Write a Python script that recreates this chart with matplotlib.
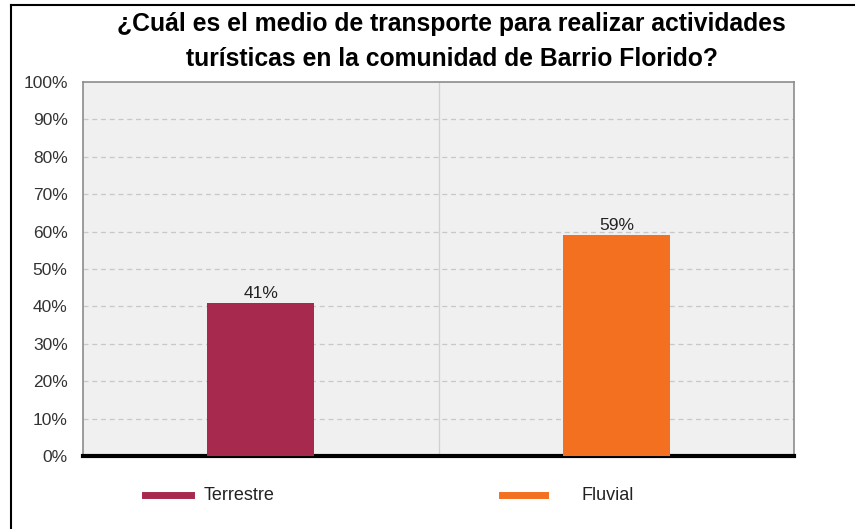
import matplotlib.pyplot as plt
from matplotlib.lines import Line2D
import numpy as np

plt.rcParams['font.family'] = ['Liberation Sans', 'DejaVu Sans']

categorias = ["Terrestre", "Fluvial"]
porcentajes = [41, 59]
etiquetas = ["41%", "59%"]
colores = ['#A8294E', '#F37021']
yticks = list(range(0, 101, 10))
titulo = "¿Cuál es el medio de transporte para realizar actividades\nturísticas en la comunidad de Barrio Florido?"

fig = plt.figure(figsize=(8.55, 5.29), dpi=100)
ax = fig.add_axes([0.097, 0.138, 0.832, 0.707])
ax.set_facecolor('#F0F0F0')

x = np.arange(len(categorias))
ax.bar(x, porcentajes, width=0.30, color=colores, zorder=3)
for xi, v, t in zip(x, porcentajes, etiquetas):
    ax.text(xi, v + 0.5, t, ha='center', va='bottom', fontsize=12.5, color='#222222', zorder=4)

ax.set_xlim(-0.5, 1.5)
ax.set_ylim(0, 100)
ax.set_yticks(yticks)
ax.set_yticklabels([f"{t}%" for t in yticks], fontsize=12.5, color='#333333')
ax.set_xticks([])
ax.tick_params(axis='y', length=0, pad=11)
for y in yticks[1:-1]:
    ax.axhline(y, color='#C8C8C8', linestyle=(0, (4, 3)), linewidth=0.9, zorder=1)
ax.axvline(0.5, color='#D0D0D0', linewidth=0.9, zorder=1)

for s in ['top', 'right', 'left']:
    ax.spines[s].set_color('#8C8C8C')
    ax.spines[s].set_linewidth(1.2)
ax.spines['bottom'].set_color('black')
ax.spines['bottom'].set_linewidth(3)

fig.text(0.528, 1 - 41.5/529, titulo, ha='center', va='center', fontsize=17.8,
         fontweight='bold', linespacing=1.6, color='black')

# leyenda
fig.add_artist(Line2D([145/855, 191/855], [1 - 495/529] * 2, color=colores[0], linewidth=5))
fig.text(204/855, 1 - 495/529, categorias[0], va='center', fontsize=13, color='#222222')
fig.add_artist(Line2D([502/855, 545/855], [1 - 495/529] * 2, color=colores[1], linewidth=5))
fig.text(581/855, 1 - 495/529, categorias[1], va='center', fontsize=13, color='#222222')

# marco exterior
fig.add_artist(Line2D([11/855, 11/855], [0, 1 - 5/529], color='black', linewidth=1.5))
fig.add_artist(Line2D([11/855, 1], [1 - 5/529] * 2, color='black', linewidth=1.5))

fig.savefig('out.png', dpi=100, facecolor='white')
